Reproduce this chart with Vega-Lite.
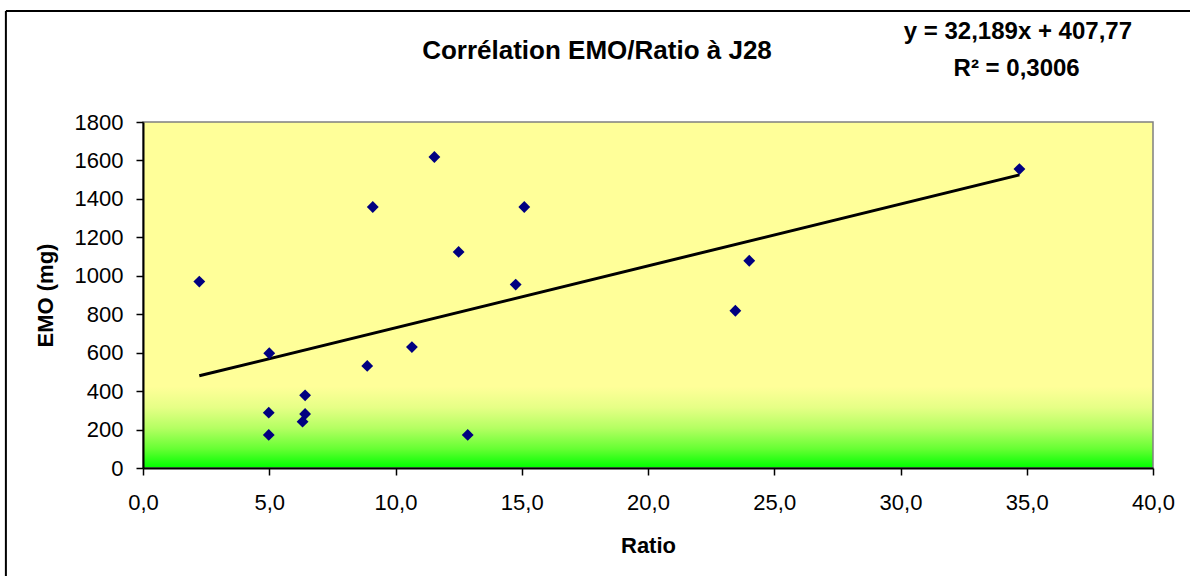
{
  "$schema": "https://vega.github.io/schema/vega-lite/v6.json",
  "autosize": {"type": "none"},
  "width": 1010,
  "height": 346,
  "padding": {"left": 143, "top": 122, "right": 37, "bottom": 108},
  "background": "white",
  "config": {
    "view": {
      "stroke": "#808080",
      "strokeWidth": 1.5,
      "fill": {
        "gradient": "linear",
        "x1": 0, "y1": 0, "x2": 0, "y2": 1,
        "stops": [
          {"offset": 0, "color": "#FFFF99"},
          {"offset": 0.765, "color": "#FFFF99"},
          {"offset": 0.825, "color": "#E6FF86"},
          {"offset": 0.885, "color": "#B4FF62"},
          {"offset": 0.945, "color": "#66FF33"},
          {"offset": 1, "color": "#00FF00"}
        ]
      }
    },
    "axis": {
      "grid": false,
      "domainColor": "black",
      "domainWidth": 2,
      "tickColor": "black",
      "tickWidth": 1.5,
      "tickSize": 7,
      "labelFont": "Liberation Sans",
      "labelFontSize": 22,
      "labelColor": "black",
      "labelOverlap": false,
      "labelFlush": false,
      "titleFont": "Liberation Sans",
      "titleFontSize": 22,
      "titleFontWeight": "bold",
      "titleColor": "black"
    }
  },
  "datasets": {
    "points": [
      {"Ratio": 2.23, "EMO": 970},
      {"Ratio": 5.0, "EMO": 597},
      {"Ratio": 4.98, "EMO": 288},
      {"Ratio": 4.98, "EMO": 172},
      {"Ratio": 6.42, "EMO": 378},
      {"Ratio": 6.42, "EMO": 281},
      {"Ratio": 6.32, "EMO": 241},
      {"Ratio": 8.88, "EMO": 531},
      {"Ratio": 9.1, "EMO": 1358},
      {"Ratio": 10.65, "EMO": 629},
      {"Ratio": 11.54, "EMO": 1618},
      {"Ratio": 12.5, "EMO": 1124},
      {"Ratio": 12.86, "EMO": 172},
      {"Ratio": 14.76, "EMO": 954},
      {"Ratio": 15.1, "EMO": 1358},
      {"Ratio": 24.01, "EMO": 1078},
      {"Ratio": 23.46, "EMO": 818},
      {"Ratio": 34.71, "EMO": 1555}
    ],
    "trend": [
      {"Ratio": 2.23, "EMO": 479.5},
      {"Ratio": 34.71, "EMO": 1525.0}
    ]
  },
  "layer": [
    {
      "data": {"name": "trend"},
      "mark": {"type": "line", "color": "black", "strokeWidth": 3},
      "encoding": {
        "x": {
          "field": "Ratio", "type": "quantitative",
          "scale": {"domain": [0, 40], "nice": false, "zero": false},
          "axis": {
            "values": [0, 5, 10, 15, 20, 25, 30, 35, 40],
            "tickCount": 20,
            "labelExpr": "replace(format(datum.value, '.1f'), '.', ',')",
            "labelPadding": 17,
            "title": "Ratio",
            "titlePadding": 22
          }
        },
        "y": {
          "field": "EMO", "type": "quantitative",
          "scale": {"domain": [0, 1800], "nice": false, "zero": false},
          "axis": {
            "values": [0, 200, 400, 600, 800, 1000, 1200, 1400, 1600, 1800],
            "tickCount": 20,
            "format": "d",
            "labelPadding": 13,
            "title": "EMO (mg)",
            "titlePadding": 17
          }
        }
      }
    },
    {
      "data": {"name": "points"},
      "mark": {"type": "point", "shape": "diamond", "filled": true, "size": 140, "color": "#000080", "opacity": 1},
      "encoding": {
        "x": {"field": "Ratio", "type": "quantitative"},
        "y": {"field": "EMO", "type": "quantitative"}
      }
    },
    {
      "data": {"values": [{"t": "Corrélation EMO/Ratio à J28"}]},
      "mark": {"type": "text", "font": "Liberation Sans", "fontSize": 26, "fontWeight": "bold", "color": "black", "align": "center", "baseline": "middle"},
      "encoding": {
        "x": {"datum": 17.98, "type": "quantitative"},
        "y": {"datum": 2170, "type": "quantitative"},
        "text": {"field": "t"}
      }
    },
    {
      "data": {"values": [{"t": "y = 32,189x + 407,77"}]},
      "mark": {"type": "text", "font": "Liberation Sans", "fontSize": 24, "fontWeight": "bold", "color": "black", "align": "center", "baseline": "middle"},
      "encoding": {
        "x": {"datum": 34.65, "type": "quantitative"},
        "y": {"datum": 2268, "type": "quantitative"},
        "text": {"field": "t"}
      }
    },
    {
      "data": {"values": [{"t": "R² = 0,3006"}]},
      "mark": {"type": "text", "font": "Liberation Sans", "fontSize": 24, "fontWeight": "bold", "color": "black", "align": "center", "baseline": "middle"},
      "encoding": {
        "x": {"datum": 34.6, "type": "quantitative"},
        "y": {"datum": 2076, "type": "quantitative"},
        "text": {"field": "t"}
      }
    },
    {
      "data": {"values": [{"edge": "left"}]},
      "mark": {"type": "rule", "color": "black", "strokeWidth": 2},
      "encoding": {
        "x": {"datum": -5.43, "type": "quantitative"},
        "y": {"datum": -800, "type": "quantitative"},
        "y2": {"datum": 2377}
      }
    },
    {
      "data": {"values": [{"edge": "top"}]},
      "mark": {"type": "rule", "color": "black", "strokeWidth": 2},
      "encoding": {
        "x": {"datum": -5.43, "type": "quantitative"},
        "x2": {"datum": 46},
        "y": {"datum": 2377, "type": "quantitative"}
      }
    }
  ]
}
